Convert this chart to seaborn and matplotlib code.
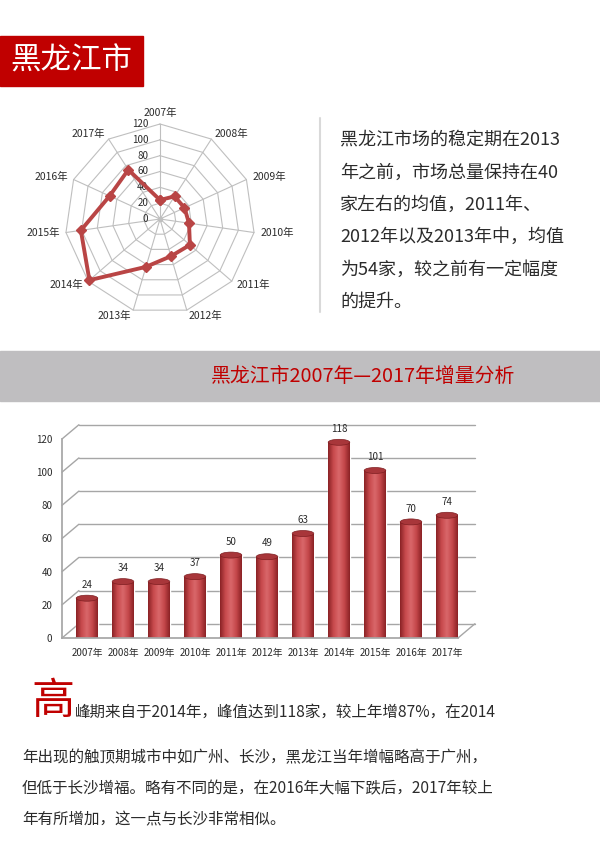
import numpy as np
import matplotlib
matplotlib.use('Agg')
from matplotlib import pyplot as plt
from matplotlib.patches import Rectangle, Ellipse
from matplotlib.colors import LinearSegmentedColormap
import seaborn as sns


# data
years = ['2007年', '2008年', '2009年', '2010年', '2011年', '2012年',
         '2013年', '2014年', '2015年', '2016年', '2017年']
counts = [24, 34, 34, 37, 50, 49, 63, 118, 101, 70, 74]
radar_ticks = [0, 20, 40, 60, 80, 100, 120]
bar_ticks = [0, 20, 40, 60, 80, 100, 120]

title_text = '黑龙江市'
intro_lines = ['黑龙江市场的稳定期在2013',
               '年之前，市场总量保持在40',
               '家左右的均值，2011年、',
               '2012年以及2013年中，均值',
               '为54家，较之前有一定幅度',
               '的提升。']
banner_text = '黑龙江市2007年—2017年增量分析'
drop_cap = '高'
body_first = '峰期来自于2014年，峰值达到118家，较上年增87%，在2014'
body_lines = ['年出现的触顶期城市中如广州、长沙，黑龙江当年增幅略高于广州，',
              '但低于长沙增福。略有不同的是，在2016年大幅下跌后，2017年较上',
              '年有所增加，这一点与长沙非常相似。']

RED = '#C00000'
TEXT = '#2b2b2b'

sns.set_theme(style='white')
plt.rcParams['font.family'] = ['Noto Sans CJK SC', 'DejaVu Sans']

fig = plt.figure(figsize=(6, 8.66), dpi=100)

# page layer in pixel coordinates
page = fig.add_axes([0, 0, 1, 1])
page.set_xlim(0, 600)
page.set_ylim(866, 0)
page.axis('off')

page.add_patch(Rectangle((0, 36), 143, 50, color=RED))
page.text(71, 61, title_text, color='white', fontsize=22, ha='center', va='center')

page.plot([320, 320], [118, 312], color='#D9D9D9', lw=1.5)
for i, line in enumerate(intro_lines):
    page.text(340, 140 + i * 32.4, line, fontsize=13, color=TEXT, va='center')

page.add_patch(Rectangle((0, 351), 600, 50, color='#BFBEC0'))
page.text(515, 377, banner_text, fontsize=14.3, color=RED, ha='right', va='center')

page.text(53, 702, drop_cap, fontsize=31, color=RED, ha='center', va='center')
page.text(75, 712, body_first, fontsize=11.2, color=TEXT, va='center')
for i, line in enumerate(body_lines):
    page.text(22, 758 + i * 31, line, fontsize=11.2, color=TEXT, va='center')

# radar chart
rad = fig.add_axes([65 / 600, (866 - 219 - 95) / 866, 190 / 600, 190 / 866],
                   projection='polar')
rad.set_theta_offset(np.pi / 2)
rad.set_theta_direction(-1)
rad.set_ylim(0, 120)
rad.axis('off')

angles = np.linspace(0, 2 * np.pi, len(years), endpoint=False)
closed = np.append(angles, angles[0])
for lvl in radar_ticks[1:]:
    rad.plot(closed, [lvl] * len(closed), color='#BFBFBF', lw=0.8, clip_on=False)
for a in angles:
    rad.plot([a, a], [0, 120], color='#BFBFBF', lw=0.8, clip_on=False)
rad.plot(closed, counts + [counts[0]], color='#B94545', lw=2.8,
         marker='D', ms=5.5, clip_on=False, zorder=5)
rad.plot([0], [0], 'o', color='#BFBFBF', ms=3)

for lvl in radar_ticks:
    rad.annotate(str(lvl), xy=(0, lvl), xytext=(-8.5, 0), textcoords='offset points',
                 ha='right', va='center', fontsize=7, color=TEXT)
for a, lab in zip(angles, years):
    s, c = np.sin(a), np.cos(a)
    ha = 'center' if abs(s) < 0.1 else ('left' if s > 0 else 'right')
    va = 'bottom' if c > 0.95 else 'center'
    rad.text(a, 128, lab, ha=ha, va=va, fontsize=7.5, color=TEXT)

# bar chart with a fake 3D look
bar = fig.add_axes([62 / 600, (866 - 638) / 866, 396 / 600, 215.6 / 866])
bar.set_facecolor('none')
sns.barplot(x=years, y=counts, color='#C0504D', width=0.6, saturation=1, ax=bar)

xmin, xmax = -0.694, 10.306
dx, dy = 0.47, 8.6
for t in bar_ticks:
    bar.plot([xmin + dx, xmax + dx], [t + dy, t + dy], color='#A6A6A6', lw=1,
             clip_on=False, zorder=0.5)
    bar.plot([xmin, xmin + dx], [t, t + dy], color='#A6A6A6', lw=1,
             clip_on=False, zorder=0.5)
bar.plot([xmax, xmax + dx], [0, dy], color='#A6A6A6', lw=1, clip_on=False, zorder=0.5)

shade = LinearSegmentedColormap.from_list(
    'cyl', ['#8A2225', '#C84A4D', '#D9676A', '#C4474A', '#8A2225'])
grad = np.linspace(0, 1, 100).reshape(1, -1)
cap_h = 3.6
for p in bar.patches:
    x0, w, h = p.get_x(), p.get_width(), p.get_height()
    bar.add_patch(Ellipse((x0 + w / 2, 0), w, cap_h, color='#9E2E31', zorder=0.9))
    im = bar.imshow(grad, extent=[x0, x0 + w, 0, h], aspect='auto', cmap=shade,
                    zorder=1.5)
    im.set_clip_path(p)
    bar.add_patch(Ellipse((x0 + w / 2, h), w, cap_h, facecolor='#A8363A',
                          edgecolor='#7E1E21', lw=0.5, zorder=3))

bar.bar_label(bar.containers[0], padding=6, fontsize=7, color=TEXT)

bar.set_xlim(xmin, xmax)
bar.set_ylim(0, 130)
bar.set_aspect('auto')
bar.set_yticks(bar_ticks)
bar.set_xlabel('')
bar.set_ylabel('')
for side in ['top', 'right']:
    bar.spines[side].set_visible(False)
bar.spines['left'].set_bounds(0, 120)
bar.spines['left'].set_color('#A6A6A6')
bar.spines['bottom'].set_color('#A6A6A6')
bar.tick_params(axis='y', length=0, pad=7, labelsize=7, labelcolor=TEXT)
bar.tick_params(axis='x', length=0, pad=7, labelsize=7, labelcolor=TEXT)

fig.savefig('out.png', dpi=100)
